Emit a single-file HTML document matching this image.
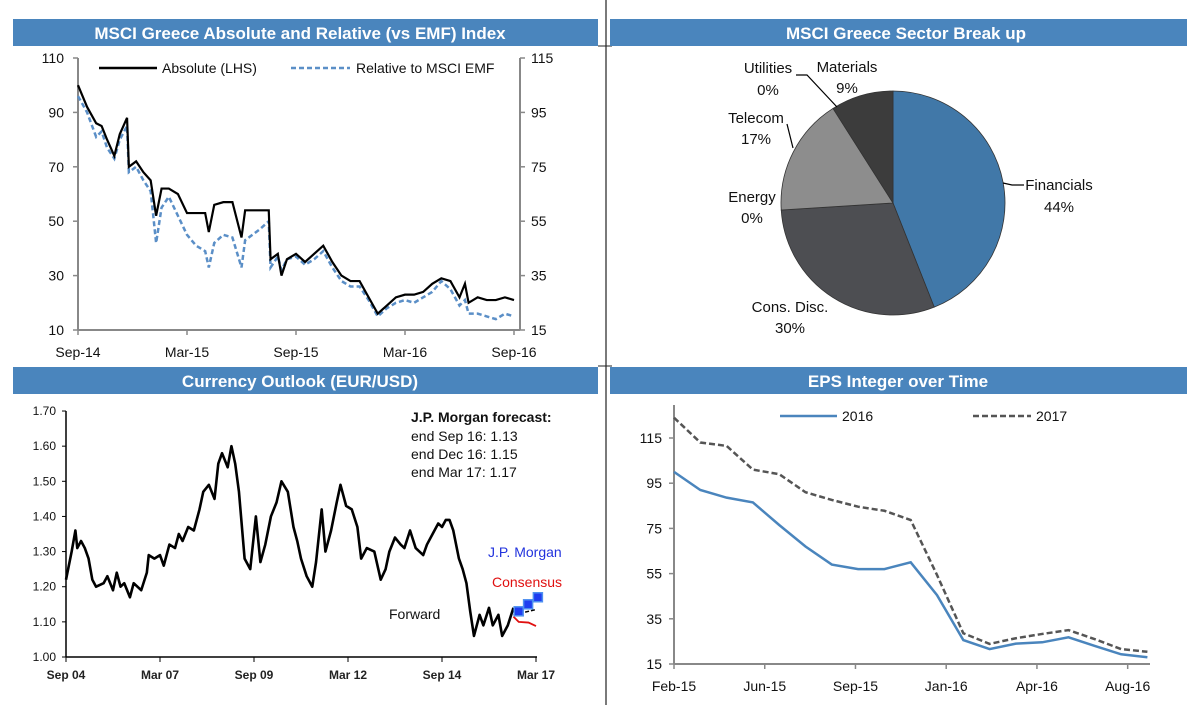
<!DOCTYPE html>
<html><head><meta charset="utf-8">
<style>
body{margin:0;background:#fff;width:1200px;height:705px;overflow:hidden}
svg{display:block}
text{font-family:"Liberation Sans Narrow","Liberation Sans",Arial,sans-serif;fill:#111}
.hdr{font-family:"Liberation Sans Narrow","Liberation Sans",sans-serif;font-weight:bold;fill:#fff;font-size:17px}
.tk{font-size:14px}
</style></head>
<body>
<svg id="s" width="1200" height="705" viewBox="0 0 1200 705" xmlns="http://www.w3.org/2000/svg">
<rect x="0" y="0" width="1200" height="705" fill="#fff"/>
<line x1="606" y1="0" x2="606" y2="705" stroke="#222" stroke-width="1.2"/>
<line x1="598" y1="46" x2="612" y2="46" stroke="#222" stroke-width="1"/>
<line x1="598" y1="366" x2="612" y2="366" stroke="#222" stroke-width="1"/>
<rect x="13" y="19" width="585" height="27" fill="#4a85bd"/>
<text class="hdr" x="300" y="39" text-anchor="middle">MSCI Greece Absolute and Relative (vs EMF) Index</text>
<rect x="610" y="19" width="577" height="27" fill="#4a85bd"/>
<text class="hdr" x="906" y="39" text-anchor="middle">MSCI Greece Sector Break up</text>
<rect x="13" y="367" width="585" height="27" fill="#4a85bd"/>
<text class="hdr" x="300" y="387" text-anchor="middle">Currency Outlook (EUR/USD)</text>
<rect x="610" y="367" width="577" height="27" fill="#4a85bd"/>
<text class="hdr" x="898" y="387" text-anchor="middle">EPS Integer over Time</text>
<g id="c1"></g><g id="c2"></g><g id="c3"></g><g id="c4"></g>
</svg>
<script>
const NS="http://www.w3.org/2000/svg";
function mk(p,tag,a,txt){const e=document.createElementNS(NS,tag);for(const k in a)e.setAttribute(k,a[k]);if(txt!==undefined)e.textContent=txt;p.appendChild(e);return e;}

/* ---------- Chart 1: MSCI Greece ---------- */
const c1Months=[0,0.5,1,1.3,1.6,2,2.3,2.7,2.8,3.2,3.6,4,4.3,4.6,5,5.5,6,6.5,7,7.2,7.5,8,8.5,9,9.2,10,10.5,10.6,11,11.2,11.5,12,12.5,13,13.5,14,14.5,15,15.5,16,16.5,17,17.5,18,18.5,19,19.5,20,20.5,21,21.3,21.5,22,22.5,23,23.5,24];
const c1Absolute=[100,92,86,85,80,74,82,88,70,72,68,65,52,62,62,60,53,53,53,46,56,57,57,44,54,54,54,36,38,30,36,38,35,38,41,35,30,28,28,22,16,19,22,23,23,24,27,29,28,22,27,20,22,21,21,22,21];
const c1Relative=[101,95,86,88,82,78,85,90,73,75,70,66,47,60,64,57,50,46,44,38,47,50,49,38,48,52,55,38,42,37,41,42,39,41,44,38,33,31,31,26,20,23,25,26,25,27,29,33,30,24,26,21,21,20,19,21,20];
const c1LeftTicks=[10,30,50,70,90,110];
const c1RightTicks=[15,35,55,75,95,115];
const c1XLabels=["Sep-14","Mar-15","Sep-15","Mar-16","Sep-16"];
(function(){
 const g=document.getElementById('c1');
 const X=m=>78+m*(436/24), YL=v=>330-(v-10)*2.72, YR=v=>330-(v-15)*2.72;
 mk(g,'line',{x1:78,y1:58,x2:78,y2:330,stroke:'#888','stroke-width':2});
 mk(g,'line',{x1:78,y1:330,x2:520,y2:330,stroke:'#888','stroke-width':2});
 mk(g,'line',{x1:520,y1:58,x2:520,y2:330,stroke:'#888','stroke-width':2});
 c1LeftTicks.forEach(v=>{mk(g,'line',{x1:73,y1:YL(v),x2:78,y2:YL(v),stroke:'#888','stroke-width':1.5});
  const t=mk(g,'text',{x:64,y:YL(v)+5,'text-anchor':'end','class':'tk'},v);
  
  });
 c1RightTicks.forEach(v=>{mk(g,'line',{x1:520,y1:YR(v),x2:525,y2:YR(v),stroke:'#888','stroke-width':1.5});
  const t=mk(g,'text',{x:531,y:YR(v)+5,'class':'tk'},v);
  
  });
 c1XLabels.forEach((l,i)=>{const x=X(i*6);mk(g,'line',{x1:x,y1:330,x2:x,y2:335,stroke:'#888','stroke-width':1.5});
  const t=mk(g,'text',{x:x,y:357,'text-anchor':'middle','class':'tk'},l);
  
  });
 const pr=c1Months.map((m,i)=>X(m)+','+YR(c1Relative[i])).join(' ');
 const l2=mk(g,'polyline',{points:pr,fill:'none',stroke:'#5b8fc7','stroke-width':2.5,'stroke-dasharray':'5,3'});
 
 
 const pa=c1Months.map((m,i)=>X(m)+','+YL(c1Absolute[i])).join(' ');
 const l1=mk(g,'polyline',{points:pa,fill:'none',stroke:'#000','stroke-width':2.2});
 
 
 mk(g,'line',{x1:99,y1:68,x2:157,y2:68,stroke:'#000','stroke-width':2.5});
 const a=mk(g,'text',{x:162,y:73,'class':'tk'},'Absolute (LHS)');
 
 
 mk(g,'line',{x1:291,y1:68,x2:350,y2:68,stroke:'#5b8fc7','stroke-width':2.5,'stroke-dasharray':'5,3'});
 const b=mk(g,'text',{x:356,y:73,'class':'tk'},'Relative to MSCI EMF');
 
 
})();

/* ---------- Chart 2: Sector pie ---------- */
const c2Sectors=["Financials","Cons. Disc.","Energy","Telecom","Utilities","Materials"];
const c2Shares=[44,30,0,17,0,9];
const c2Colors=["#4178a8","#4d4e52","#777","#8d8d8d","#666","#3c3c3c"];
(function(){
 const g=document.getElementById('c2');const cx=893,cy=203,r=112;
 const tot=c2Shares.reduce((a,b)=>a+b,0);let ang=0;
 c2Shares.forEach((s,i)=>{if(s<=0)return;const a0=ang,a1=ang+s/tot*2*Math.PI;ang=a1;
  const p0=[cx+r*Math.sin(a0),cy-r*Math.cos(a0)],p1=[cx+r*Math.sin(a1),cy-r*Math.cos(a1)];
  const d=`M${cx},${cy} L${p0[0]},${p0[1]} A${r},${r} 0 ${a1-a0>Math.PI?1:0} 1 ${p1[0]},${p1[1]} Z`;
  const p=mk(g,'path',{d:d,fill:c2Colors[i],stroke:'#333','stroke-width':0.8});
  
  });
 const labs=[[1059,185,207],[790,307,328],[752,197,218],[756,118,139],[768,68,90],[847,67,88]];
 labs.forEach((L,i)=>{const t=mk(g,'text',{x:L[0],y:L[1]+5,'text-anchor':'middle',style:'font-size:15px'},c2Sectors[i]);
  
  
  mk(g,'text',{x:L[0],y:L[2]+5,'text-anchor':'middle',style:'font-size:15px'},c2Shares[i]+'%');});
 mk(g,'polyline',{points:'1003,183 1012,185 1024,185',fill:'none',stroke:'#000','stroke-width':1.2});
 mk(g,'polyline',{points:'787,124 793,148',fill:'none',stroke:'#000','stroke-width':1.2});
 mk(g,'polyline',{points:'796,75 807,75 837,107',fill:'none',stroke:'#000','stroke-width':1.2});
})();

/* ---------- Chart 3: EUR/USD ---------- */
const c3Years=[0,0.15,0.25,0.3,0.4,0.5,0.6,0.7,0.8,1.0,1.1,1.25,1.35,1.45,1.55,1.7,1.8,2.0,2.15,2.2,2.35,2.5,2.6,2.75,2.9,3.0,3.1,3.25,3.4,3.55,3.65,3.8,3.95,4.05,4.15,4.3,4.4,4.5,4.6,4.75,4.9,5.05,5.17,5.3,5.45,5.6,5.73,5.9,6.05,6.15,6.25,6.4,6.55,6.65,6.8,6.9,7.05,7.2,7.3,7.45,7.6,7.75,7.85,8.0,8.2,8.37,8.5,8.6,8.75,8.9,9.0,9.15,9.3,9.5,9.6,9.75,9.9,10.0,10.1,10.2,10.3,10.45,10.55,10.65,10.75,10.85,11.0,11.1,11.25,11.35,11.5,11.6,11.75,11.9];
const c3Rates=[1.22,1.30,1.36,1.31,1.33,1.31,1.28,1.22,1.20,1.21,1.23,1.19,1.24,1.20,1.21,1.17,1.21,1.19,1.24,1.29,1.28,1.29,1.26,1.32,1.31,1.35,1.33,1.37,1.36,1.42,1.47,1.49,1.45,1.55,1.58,1.54,1.60,1.55,1.47,1.28,1.25,1.40,1.27,1.32,1.40,1.44,1.50,1.47,1.37,1.33,1.28,1.23,1.20,1.27,1.42,1.30,1.36,1.44,1.49,1.43,1.42,1.37,1.28,1.31,1.30,1.22,1.25,1.30,1.34,1.32,1.31,1.36,1.31,1.29,1.32,1.35,1.38,1.37,1.39,1.39,1.36,1.28,1.25,1.21,1.13,1.06,1.12,1.09,1.14,1.09,1.12,1.06,1.09,1.14,1.12,1.10,1.12];
const c3JPMYears=[12.04,12.29,12.55];
const c3JPMRates=[1.13,1.15,1.17];
const c3ConsYears=[11.9,12.04,12.3,12.5];
const c3ConsRates=[1.115,1.10,1.098,1.088];
const c3FwdYears=[11.9,12.5];
const c3FwdRates=[1.12,1.135];
const c3YTicks=[1.00,1.10,1.20,1.30,1.40,1.50,1.60,1.70];
const c3XLabels=["Sep 04","Mar 07","Sep 09","Mar 12","Sep 14","Mar 17"];
(function(){
 const g=document.getElementById('c3');
 const X=t=>66+t*(470/12.5), Y=v=>657-(v-1.0)*351.4;
 mk(g,'line',{x1:66,y1:411,x2:66,y2:657,stroke:'#000','stroke-width':1.5});
 mk(g,'line',{x1:66,y1:657,x2:537,y2:657,stroke:'#000','stroke-width':1.5});
 c3YTicks.forEach(v=>{mk(g,'line',{x1:62,y1:Y(v),x2:66,y2:Y(v),stroke:'#000'});
  const t=mk(g,'text',{x:56,y:Y(v)+4,'text-anchor':'end',style:'font-size:12px'},v.toFixed(2));
  
  });
 c3XLabels.forEach((l,i)=>{const x=X(i*2.5);mk(g,'line',{x1:x,y1:657,x2:x,y2:662,stroke:'#000'});
  const t=mk(g,'text',{x:x,y:679,'text-anchor':'middle',style:'font-size:12px;font-weight:bold;fill:#222'},l);
  
  });
 const l=mk(g,'polyline',{points:c3Years.map((t,i)=>X(t)+','+Y(c3Rates[i])).join(' '),fill:'none',stroke:'#000','stroke-width':2.6,'stroke-linejoin':'round'});
 
 
 mk(g,'polyline',{points:c3ConsYears.map((t,i)=>X(t)+','+Y(c3ConsRates[i])).join(' '),fill:'none',stroke:'#e01010','stroke-width':1.8});
 mk(g,'polyline',{points:c3FwdYears.map((t,i)=>X(t)+','+Y(c3FwdRates[i])).join(' '),fill:'none',stroke:'#000','stroke-width':1.5,'stroke-dasharray':'4,2'});
 c3JPMYears.forEach((t,i)=>{const sq=mk(g,'rect',{x:X(t)-4.5,y:Y(c3JPMRates[i])-4.5,width:9,height:9,fill:'#1f3df0',stroke:'#4d8ff0','stroke-width':1.5});
  
  });
 mk(g,'text',{x:488,y:557,fill:'#2233dd',style:'font-size:14px;fill:#2233dd'},'J.P. Morgan');
 mk(g,'text',{x:492,y:587,style:'font-size:14px;fill:#e01010'},'Consensus');
 mk(g,'text',{x:389,y:619,style:'font-size:14px'},'Forward');
 mk(g,'text',{x:411,y:422,style:'font-size:14px;font-weight:bold'},'J.P. Morgan forecast:');
 mk(g,'text',{x:411,y:441,style:'font-size:14px'},'end Sep 16: 1.13');
 mk(g,'text',{x:411,y:459,style:'font-size:14px'},'end Dec 16: 1.15');
 mk(g,'text',{x:411,y:477,style:'font-size:14px'},'end Mar 17: 1.17');
})();

/* ---------- Chart 4: EPS ---------- */
const c4Eps2016=[100,92,88.6,86.5,76.5,67,59,57,57,60,45.5,25.6,21.6,24,24.6,26.8,23,19.3,18];
const c4Eps2017=[124,113,111.5,101,99,91,87.6,84.6,82.8,78.7,54.4,28.6,23.9,26.4,28.3,30,26,21.6,20.4];
const c4YTicks=[15,35,55,75,95,115];
const c4XLabels=["Feb-15","Jun-15","Sep-15","Jan-16","Apr-16","Aug-16"];
(function(){
 const g=document.getElementById('c4');
 const step=26.3, X=i=>674+i*step, Y=v=>664-(v-15)*2.26;
 mk(g,'line',{x1:674,y1:405,x2:674,y2:664,stroke:'#888','stroke-width':2});
 mk(g,'line',{x1:674,y1:664,x2:1150,y2:664,stroke:'#888','stroke-width':2});
 c4YTicks.forEach(v=>{mk(g,'line',{x1:669,y1:Y(v),x2:674,y2:Y(v),stroke:'#888','stroke-width':1.5});
  const t=mk(g,'text',{x:662,y:Y(v)+5,'text-anchor':'end','class':'tk'},v);
  
  });
 c4XLabels.forEach((l,i)=>{const x=X(i*3.45);mk(g,'line',{x1:x,y1:664,x2:x,y2:669,stroke:'#888','stroke-width':1.5});
  const t=mk(g,'text',{x:x,y:691,'text-anchor':'middle','class':'tk'},l);
  
  });
 const a=mk(g,'polyline',{points:c4Eps2017.map((v,i)=>X(i)+','+Y(v)).join(' '),fill:'none',stroke:'#555','stroke-width':2.5,'stroke-dasharray':'6,3'});
 
 
 const b=mk(g,'polyline',{points:c4Eps2016.map((v,i)=>X(i)+','+Y(v)).join(' '),fill:'none',stroke:'#4a85bd','stroke-width':2.5});
 
 
 mk(g,'line',{x1:780,y1:416,x2:837,y2:416,stroke:'#4a85bd','stroke-width':2.5});
 mk(g,'text',{x:842,y:421,'class':'tk'},'2016');
 mk(g,'line',{x1:973,y1:416,x2:1031,y2:416,stroke:'#555','stroke-width':2.5,'stroke-dasharray':'6,3'});
 mk(g,'text',{x:1036,y:421,'class':'tk'},'2017');
})();
</script>
</body></html>
